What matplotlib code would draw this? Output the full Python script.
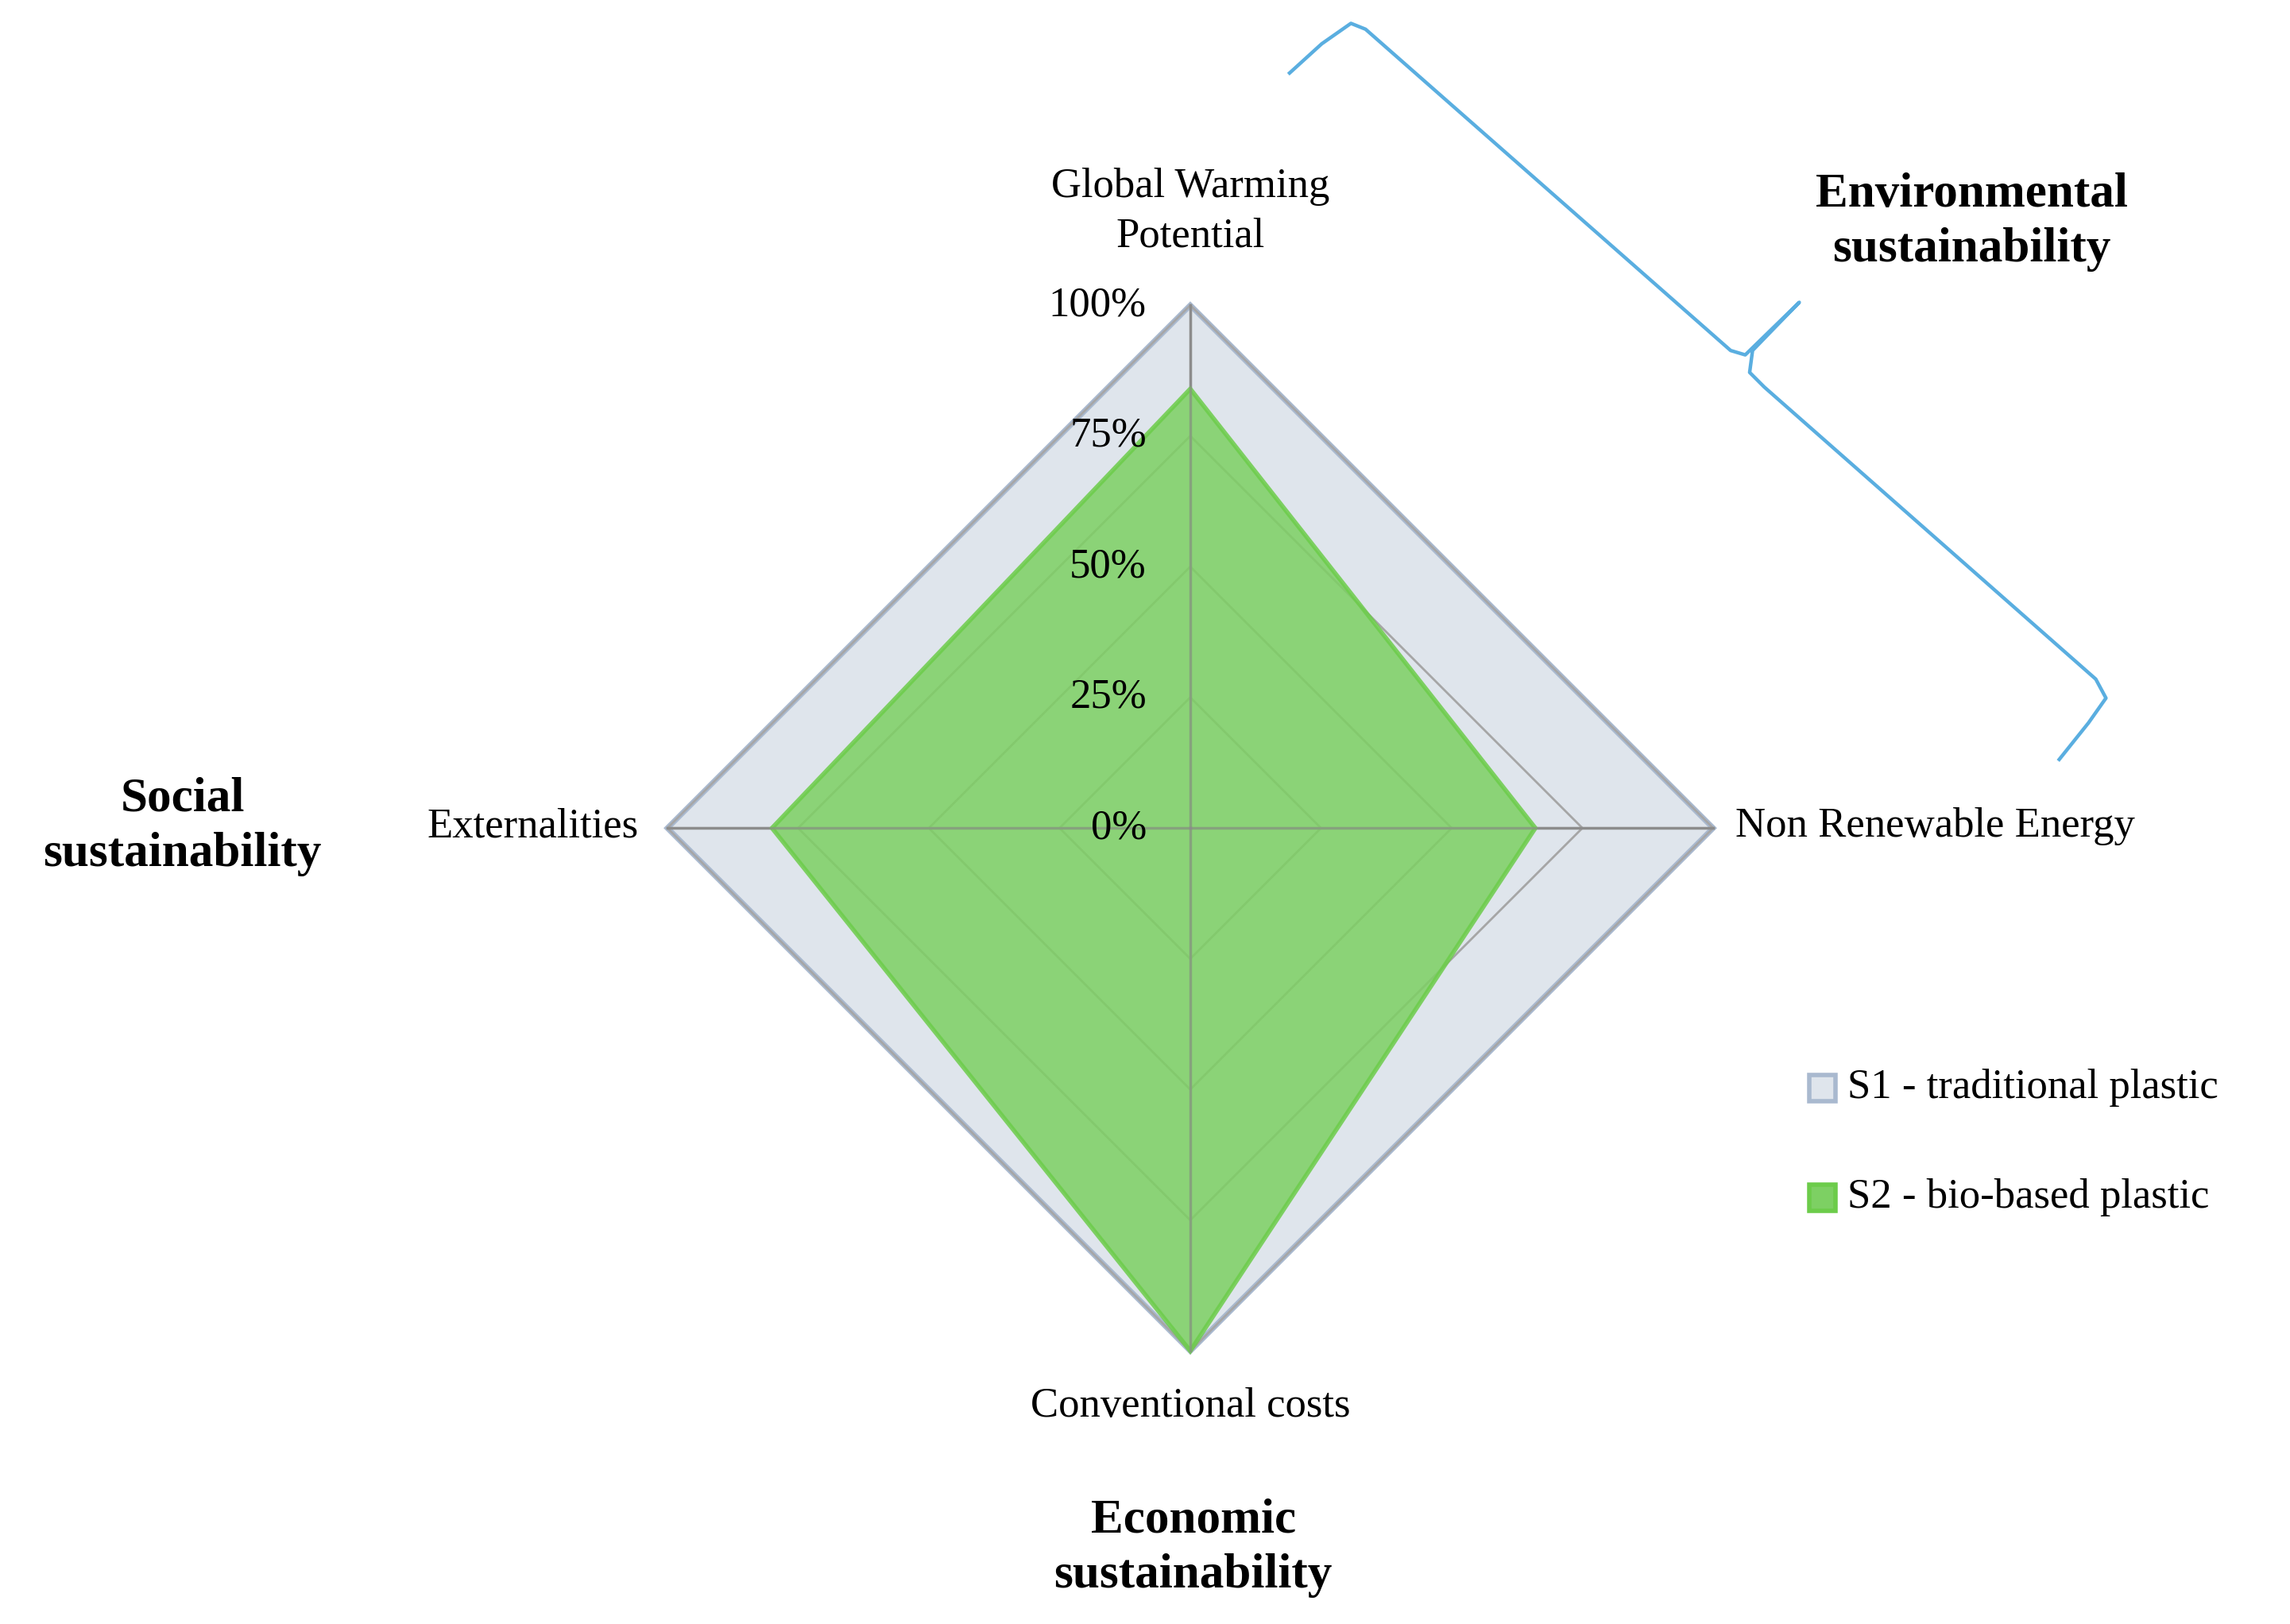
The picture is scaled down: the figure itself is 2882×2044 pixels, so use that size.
import numpy as np
import matplotlib.pyplot as plt
from matplotlib.patches import Polygon, Rectangle

plt.rcParams['font.family'] = ['Liberation Serif', 'DejaVu Serif']

axes_names = ['Global Warming\nPotential', 'Non Renewable Energy', 'Conventional costs', 'Externalities']
s1 = [100, 100, 100, 100]
s2 = [84, 66, 100, 80]
rings = [25, 50, 75, 100]
ring_labels = ['0%', '25%', '50%', '75%', '100%']

# layout in reference-pixel units (1568 x 1112 view)
cx, cy, R = 815, 567, 358
ang = np.array([90, 0, -90, 180]) * np.pi / 180


def pts(vals):
    v = np.array(vals) / 100 * R
    return np.column_stack([cx + v * np.cos(ang), cy - v * np.sin(ang)])


fig = plt.figure(figsize=(14.41, 10.22), dpi=200)
ax = fig.add_axes([0, 0, 1, 1])
ax.set_xlim(0, 1568)
ax.set_ylim(1112, 0)
ax.axis('off')

ax.add_patch(Polygon(pts(s1), closed=True, facecolor='#dfe5ec', edgecolor='#a9b9cf', lw=2.5, zorder=1))
for r in rings:
    ax.add_patch(Polygon(pts([r] * 4), closed=True, fill=False, edgecolor='#a6a6a6', lw=1, zorder=2))
for p in pts([100] * 4):
    ax.plot([cx, p[0]], [cy, p[1]], color='#8c8c8c', lw=1.2, zorder=2)
ax.add_patch(Polygon(pts(s2), closed=True, facecolor='#7dd063', edgecolor='#6ccc4a', lw=2, alpha=0.85, zorder=3))
for p in pts([100] * 4):
    ax.plot([cx, p[0]], [cy, p[1]], color='#8c8c8c', lw=1.2, alpha=0.6, zorder=4)

for i, lab in enumerate(ring_labels):
    ax.text(cx - 30, cy - i * R / 4, lab, ha='right', va='center', fontsize=19, zorder=5)

fs = 19
ax.text(cx, 145, axes_names[0], ha='center', va='center', fontsize=fs, linespacing=1.4)
ax.text(1188, 566, axes_names[1], ha='left', va='center', fontsize=fs)
ax.text(cx, 963, axes_names[2], ha='center', va='center', fontsize=fs)
ax.text(437, 566, axes_names[3], ha='right', va='center', fontsize=fs)

bfs = 22
ax.text(1350, 152, 'Environmental\nsustainability', ha='center', va='center', fontsize=bfs, fontweight='bold', linespacing=1.3)
ax.text(125, 566, 'Social\nsustainability', ha='center', va='center', fontsize=bfs, fontweight='bold', linespacing=1.3)
ax.text(817, 1060, 'Economic\nsustainability', ha='center', va='center', fontsize=bfs, fontweight='bold', linespacing=1.3)

# brace
bx = [883, 905, 925, 935, 1185, 1195, 1232, 1200, 1198, 1208, 1435, 1442, 1430, 1410]
by = [50, 30, 16, 20, 240, 243, 207, 240, 255, 265, 465, 478, 495, 520]
ax.plot(bx, by, color='#5aaee0', lw=1.6)

# legend
for y, fc, ec, lab in [(745, '#dfe5ec', '#a9b9cf', 'S1 - traditional plastic'),
                       (820, '#7dd063', '#6ccc4a', 'S2 - bio-based plastic')]:
    ax.add_patch(Rectangle((1239, y - 9), 18, 18, facecolor=fc, edgecolor=ec, lw=2))
    ax.text(1265, y, lab, ha='left', va='center', fontsize=fs)

fig.savefig('out.png', dpi=200)
